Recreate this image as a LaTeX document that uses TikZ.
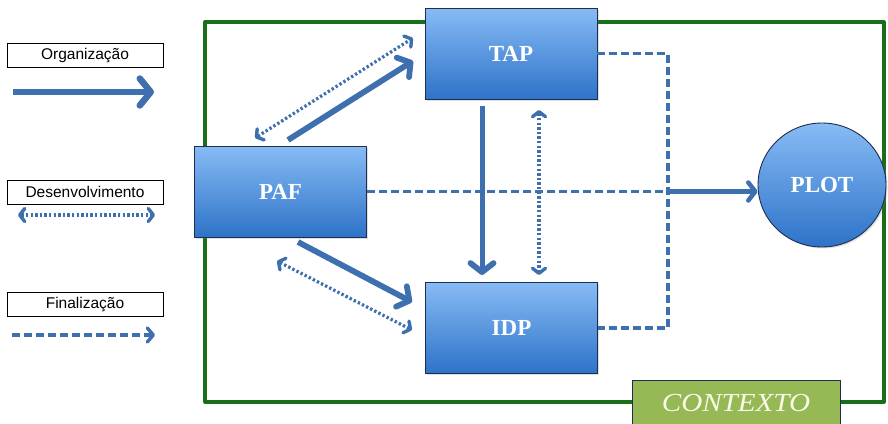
\documentclass[tikz,border=0pt]{standalone}
\usepackage{fontspec}
\setmainfont{Liberation Serif}
\newfontfamily\legendfont{Liberation Sans}
\usetikzlibrary{arrows.meta,shapes.geometric,shadows}
\definecolor{arrowblue}{RGB}{62,112,175}
\definecolor{boxtop}{RGB}{135,187,245}
\definecolor{boxbot}{RGB}{45,115,200}
\definecolor{boxline}{RGB}{30,45,80}
\definecolor{framegreen}{RGB}{25,110,25}
\definecolor{ctxgreen}{RGB}{150,185,85}
\definecolor{ctxtext}{RGB}{250,250,235}
\tikzset{
  procbox/.style={rectangle, draw=boxline, line width=0.9pt, top color=boxtop, bottom color=boxbot,
    minimum width=172pt, minimum height=91pt, inner sep=0pt, text=white,
    font=\fontsize{23}{25}\selectfont\bfseries,
    drop shadow={shadow xshift=1.5pt, shadow yshift=-1.5pt, opacity=0.25}},
  legendbox/.style={rectangle, draw=black, line width=0.7pt, fill=white, minimum width=156pt,
    minimum height=24pt, inner sep=0pt, font=\legendfont\fontsize{15.5}{17}\selectfont},
  orgarrow/.style={draw=arrowblue, line width=5.8pt, -{Straight Barb[round,length=9pt,width=23pt,line width=5.8pt]}},
  devarrow/.style={draw=arrowblue, line width=3.2pt, dash pattern=on 2.4pt off 2.2pt,
    {Straight Barb[round,length=5pt,width=13pt,line width=3.4pt]}-{Straight Barb[round,length=5pt,width=13pt,line width=3.4pt]}},
  finline/.style={draw=arrowblue, line width=3.4pt, dash pattern=on 8pt off 4pt},
  finarrow/.style={finline, -{Straight Barb[round,length=6pt,width=14pt,line width=3.4pt]}},
}
\begin{document}
\begin{tikzpicture}[x=1pt,y=-1pt]
\clip (0,0) rectangle (888,423);
\fill[white] (0,0) rectangle (888,423);
% legend
\node[legendbox] (lorg) at (85,55.5) {Organização};
\node[legendbox] (ldev) at (85,192) {Desenvolvimento};
\node[legendbox] (lfin) at (85,304.5) {Finalização};
\coordinate (lo1) at (13,92); \coordinate (lo2) at (154,92);
\coordinate (ld1) at (18,215); \coordinate (ld2) at (155,215);
\coordinate (lf1) at (12,335); \coordinate (lf2) at (155,335);
\draw[orgarrow, line width=6.5pt, -{Straight Barb[round,length=11pt,width=27pt,line width=6.5pt]}] (lo1) -- (lo2);
\draw[devarrow] (ld1) -- (ld2);
\draw[finarrow] (lf1) -- (lf2);
% green frame
\draw[framegreen, line width=3.2pt, line join=round] (205,22) rectangle (884,402);
% nodes
\node[procbox] (TAP) at (511,53.5) {TAP};
\node[procbox] (PAF) at (280.5,191.5) {PAF};
\node[procbox] (IDP) at (511.5,328) {IDP};
\node[ellipse, draw=boxline, line width=0.9pt, top color=boxtop, bottom color=boxbot,
  minimum width=128pt, minimum height=124pt, inner sep=0pt, text=white,
  font=\fontsize{23}{25}\selectfont\bfseries,
  drop shadow={shadow xshift=1.5pt, shadow yshift=-1.5pt, opacity=0.25}] (PLOT) at (822,185) {PLOT};
\node[rectangle, draw=boxline, line width=0.6pt, fill=ctxgreen, minimum width=208pt, minimum height=50pt,
  inner sep=0pt] (CTX) at (736,405) {};
\node[text=ctxtext, font=\fontsize{26}{28}\selectfont\itshape] (CTXT) at (736,403) {\scalebox{1.12}[1]{CONTEXTO}};
% connectors PAF-TAP
\coordinate (pt1) at (288,140); \coordinate (pt2) at (413,61);
\draw[orgarrow] (pt1) -- (pt2);
\coordinate (pd1) at (255,138); \coordinate (pd2) at (413,38);
\draw[devarrow] (pd1) -- (pd2);
% PAF-IDP
\coordinate (pi1) at (298,242); \coordinate (pi2) at (412,302);
\draw[orgarrow] (pi1) -- (pi2);
\coordinate (qd1) at (277,261); \coordinate (qd2) at (412,330);
\draw[devarrow] (qd1) -- (qd2);
% TAP-IDP
\coordinate (ti1) at (482,106); \coordinate (ti2) at (482,275);
\draw[orgarrow, line width=5pt] (ti1) -- (ti2);
\coordinate (td1) at (539,110); \coordinate (td2) at (539,275);
\draw[devarrow] (td1) -- (td2);
% PAF -> PLOT
\coordinate (pp) at (670,191.5);
\draw[finline] (PAF.east) -- (pp);
\draw[draw=arrowblue, line width=4.5pt, -{Straight Barb[round,length=7pt,width=18pt,line width=4.5pt]}] (pp) -- (pp -| PLOT.west);
% TAP / IDP finalization
\coordinate (r1) at (668,53.5); \coordinate (r2) at (668,328);
\draw[finline, line join=round] (TAP.east) -- (r1) -- (r2) -- (IDP.east);
\end{tikzpicture}
\end{document}
